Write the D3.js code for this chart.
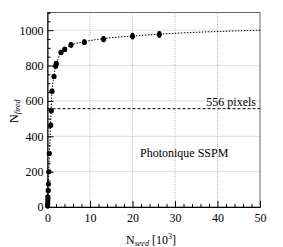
<!DOCTYPE html>
<html><head><meta charset="utf-8">
<script src="https://cdn.jsdelivr.net/npm/d3@7"></script>
<style>body{margin:0;background:#fff}svg{display:block}</style>
</head><body><div id="c"></div>
<script>
const seedX = [0.02,0.04,0.06,0.09,0.17,0.22,0.3,0.42,0.75,0.9,1.06,1.53,1.93,2.07,3.18,4.05,5.53,8.66,13.2,20.0,26.3];
const firedY = [5,21,40,58,94,130,200,303,463,544,655,738,798,812,874,891,917,932,949,966,976];
const firedErr = [2,3,4,5,6,7,8,9,10,10,10,11,11,11,12,12,13,13,14,15,16];
const fitX = [0,0.1,0.3,0.6,1,1.5,2,3,4,5.5,8.7,13,20,26,35,42,50];
const fitY = [0,80,200,400,630,740,800,865,890,915,935,952,967,977,988,994,1000];
const pixelLine = 556;
const xTicks = [0,10,20,30,40,50];
const yTicks = [0,200,400,600,800,1000];

const FONT="Liberation Serif";
const W=283,H=247, L=47.5, R=260, T=12.5, B=207;
const svg=d3.select("#c").append("svg").attr("width",W).attr("height",H).style("font-family",FONT);
const x=d3.scaleLinear().domain([0,50]).range([L,R]);
const y=d3.scaleLinear().domain([0,1100]).range([B,T]);

const g=svg.append("g");
xTicks.filter(v=>v>0&&v<50).forEach(v=>g.append("line").attr("x1",x(v)).attr("x2",x(v)).attr("y1",B).attr("y2",T).attr("stroke","#aaa").attr("stroke-width",0.8).attr("stroke-dasharray","1,1"));
yTicks.filter(v=>v>0).forEach(v=>g.append("line").attr("x1",L).attr("x2",R).attr("y1",y(v)).attr("y2",y(v)).attr("stroke","#aaa").attr("stroke-width",0.8).attr("stroke-dasharray","1,1"));

svg.append("rect").attr("x",L).attr("y",T).attr("width",R-L).attr("height",B-T).attr("fill","none").attr("stroke","#666").attr("stroke-width",1);

const xAx=svg.append("g").attr("transform",`translate(0,${B})`)
 .call(d3.axisTop(x).tickValues(d3.range(0,51,2)).tickSize(3).tickFormat(""));
xAx.selectAll(".tick line").filter(d=>d%10===0).attr("y2",-6);
xAx.select(".domain").attr("stroke","#000");
svg.append("g").attr("transform",`translate(0,${B})`).call(d3.axisBottom(x).tickValues(xTicks).tickSize(0).tickPadding(6).tickFormat(d3.format("d")))
 .call(a=>{a.attr("font-family",null);a.select(".domain").remove();a.selectAll("text").attr("font-size",12).attr("fill","#000").style("font-family",FONT);});
const yAx=svg.append("g").attr("transform",`translate(${L},0)`)
 .call(d3.axisRight(y).tickValues(d3.range(0,1101,50)).tickSize(3).tickFormat(""));
yAx.selectAll(".tick line").filter(d=>d%200===0).attr("x2",6);
yAx.select(".domain").attr("stroke","#000");
svg.append("g").attr("transform",`translate(${L},0)`).call(d3.axisLeft(y).tickValues(yTicks).tickSize(0).tickPadding(4).tickFormat(d3.format("d")))
 .call(a=>{a.attr("font-family",null);a.select(".domain").remove();a.selectAll("text").attr("font-size",12).attr("fill","#000").style("font-family",FONT);});

svg.append("line").attr("x1",L).attr("x2",R).attr("y1",y(pixelLine)).attr("y2",y(pixelLine)).attr("stroke","#000").attr("stroke-width",1).attr("stroke-dasharray","3,2");
svg.append("text").attr("x",256).attr("y",y(pixelLine)-3).attr("text-anchor","end").attr("font-size",12).style("font-family",FONT).text(pixelLine+" pixels");

svg.append("path").datum(fitX.map((v,i)=>[v,fitY[i]])).attr("fill","none").attr("stroke","#000").attr("stroke-width",1).attr("stroke-dasharray","1.5,1.5")
 .attr("d",d3.line().x(d=>x(d[0])).y(d=>y(d[1])).curve(d3.curveMonotoneX));

const pts=svg.append("g");
seedX.forEach((v,i)=>{
  pts.append("line").attr("x1",x(v)).attr("x2",x(v)).attr("y1",y(firedY[i]-firedErr[i])).attr("y2",y(firedY[i]+firedErr[i])).attr("stroke","#000");
  [firedY[i]-firedErr[i],firedY[i]+firedErr[i]].forEach(e=>pts.append("line").attr("x1",x(v)-1.5).attr("x2",x(v)+1.5).attr("y1",y(e)).attr("y2",y(e)).attr("stroke","#000"));
  pts.append("circle").attr("cx",x(v)).attr("cy",y(firedY[i])).attr("r",2.6).attr("fill","#000");
});

svg.append("text").attr("x",140).attr("y",157).attr("font-size",12).style("font-family",FONT).text("Photonique SSPM");

const xt=svg.append("text").attr("x",126).attr("y",244).attr("font-size",12).style("font-family",FONT);
xt.append("tspan").text("N");
xt.append("tspan").attr("font-size",8).attr("font-style","italic").attr("dy",2).text("seed");
xt.append("tspan").attr("dy",-2).text(" [10");
xt.append("tspan").attr("font-size",8).attr("dy",-5).text("3");
xt.append("tspan").attr("dy",5).text("]");
const yt=svg.append("text").attr("transform","translate(18,123) rotate(-90)").attr("font-size",12).style("font-family",FONT);
yt.append("tspan").text("N");
yt.append("tspan").attr("font-size",8).attr("font-style","italic").attr("dy",2).text("fired");
</script></body></html>
